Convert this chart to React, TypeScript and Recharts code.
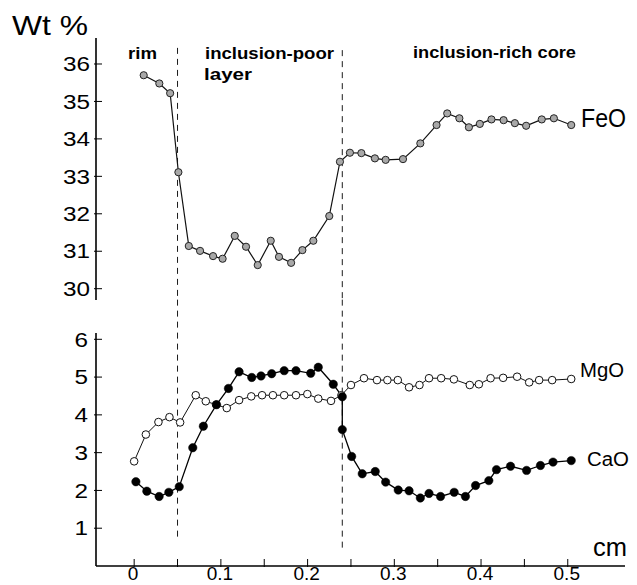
import React from 'react';
import { LineChart, Line, XAxis, YAxis, ReferenceLine } from 'recharts';

// ---- data (distance in cm, oxide wt %) ----
const feoDist = [0.011, 0.029, 0.0415, 0.051, 0.063, 0.076, 0.091, 0.102, 0.116, 0.129, 0.1425, 0.1575, 0.167, 0.181, 0.194, 0.2066, 0.225, 0.2373, 0.2488, 0.262, 0.2776, 0.29, 0.31, 0.33, 0.3487, 0.361, 0.375, 0.386, 0.3986, 0.412, 0.426, 0.439, 0.452, 0.47, 0.484, 0.504];
const feoWt = [35.7, 35.48, 35.22, 33.11, 31.14, 31.01, 30.87, 30.8, 31.41, 31.12, 30.63, 31.28, 30.85, 30.69, 31.03, 31.28, 31.94, 33.39, 33.63, 33.62, 33.48, 33.44, 33.46, 33.88, 34.37, 34.68, 34.55, 34.31, 34.4, 34.52, 34.5, 34.42, 34.35, 34.52, 34.55, 34.37];

const mgoDist = [0.0, 0.0135, 0.028, 0.0407, 0.053, 0.071, 0.0826, 0.0945, 0.1068, 0.121, 0.135, 0.1475, 0.16, 0.173, 0.1866, 0.1997, 0.2123, 0.227, 0.239, 0.25, 0.265, 0.28, 0.292, 0.304, 0.317, 0.329, 0.34, 0.354, 0.3687, 0.387, 0.3975, 0.411, 0.4255, 0.4416, 0.4555, 0.467, 0.482, 0.504];
const mgoWt = [2.77, 3.48, 3.81, 3.94, 3.8, 4.52, 4.36, 4.27, 4.18, 4.39, 4.49, 4.52, 4.52, 4.52, 4.52, 4.55, 4.43, 4.37, 4.52, 4.79, 4.97, 4.92, 4.92, 4.92, 4.73, 4.79, 4.97, 4.97, 4.94, 4.79, 4.81, 4.97, 4.98, 5.01, 4.86, 4.92, 4.92, 4.95];

const caoDist = [0.002, 0.0146, 0.0288, 0.04, 0.052, 0.0676, 0.0798, 0.095, 0.1087, 0.121, 0.1356, 0.1463, 0.1586, 0.173, 0.1866, 0.2036, 0.2123, 0.2296, 0.24, 0.24, 0.2508, 0.263, 0.278, 0.29, 0.3045, 0.317, 0.33, 0.34, 0.3533, 0.369, 0.382, 0.3937, 0.409, 0.4178, 0.434, 0.4525, 0.4685, 0.483, 0.504];
const caoWt = [2.23, 1.98, 1.84, 1.95, 2.1, 3.13, 3.7, 4.27, 4.7, 5.14, 4.99, 5.03, 5.09, 5.17, 5.17, 5.1, 5.26, 4.81, 4.48, 3.61, 2.9, 2.44, 2.5, 2.22, 2.01, 1.99, 1.8, 1.92, 1.84, 1.95, 1.84, 2.13, 2.26, 2.55, 2.64, 2.53, 2.66, 2.75, 2.79];

const xTicks = [0, 0.05, 0.1, 0.15, 0.2, 0.25, 0.3, 0.35, 0.4, 0.45, 0.5];
const xTickLabels = ['0', '', '0.1', '', '0.2', '', '0.3', '', '0.4', '', '0.5'];
const feoTicks = [30, 31, 32, 33, 34, 35, 36];
const lowerTicks = [1, 2, 3, 4, 5, 6];
const zoneBounds = [0.05, 0.24];

const feoData = feoDist.map((x, i) => ({ x, v: feoWt[i] }));
const mgoData = mgoDist.map((x, i) => ({ x, v: mgoWt[i] }));
const caoData = caoDist.map((x, i) => ({ x, v: caoWt[i] }));

// ---- layout / style ----
const AX = 96; // y-axis pixel x
const XAY = 566; // x-axis pixel y
const XDOM: [number, number] = [-0.044, 0.566];
const FONT = '"Liberation Sans", Arial, Helvetica, sans-serif';

const makeYTick = (labelRight: number) => (props: any) => {
  const { y, payload } = props;
  const s = String(payload.value);
  return (
    <g>
      <line x1={AX - 2} x2={AX + 6} y1={y} y2={y} stroke="#000" strokeWidth={1} />
      <text
        x={labelRight}
        y={y}
        dy="0.36em"
        textAnchor="end"
        fontSize={20}
        fontFamily={FONT}
        fill="#000"
        textLength={s.length * 13.5}
        lengthAdjust="spacingAndGlyphs"
      >
        {s}
      </text>
    </g>
  );
};

const XTick = (props: any) => {
  const { x, payload } = props;
  const idx = xTicks.indexOf(payload.value);
  const label = idx >= 0 ? xTickLabels[idx] : '';
  return (
    <g>
      <line x1={x} x2={x} y1={XAY + 1} y2={XAY - 7} stroke="#000" strokeWidth={1} />
      {label !== '' && (
        <text x={x - 1} y={580} textAnchor="middle" fontSize={19} fontFamily={FONT} fill="#000">
          {label}
        </text>
      )}
    </g>
  );
};

const dash = { stroke: '#000', strokeWidth: 0.9, strokeDasharray: '6 5' };

export default function App() {
  return (
    <div style={{ position: 'absolute', left: 0, top: 0, width: 637, height: 585, background: '#fff', overflow: 'hidden' }}>
      <div style={{ position: 'absolute', left: 0, top: 0 }}>
        <LineChart width={637} height={310} margin={{ top: 38, right: 12, bottom: 10, left: 36 }}>
          <XAxis type="number" dataKey="x" domain={XDOM} hide allowDataOverflow />
          <YAxis
            type="number"
            width={60}
            domain={[29.698, 36.694]}
            ticks={feoTicks}
            interval={0}
            allowDataOverflow
            axisLine={{ stroke: '#000', strokeWidth: 1.6 }}
            tickLine={false}
            tick={makeYTick(90)}
          />
          <ReferenceLine segment={[{ x: zoneBounds[0], y: 36.43 }, { x: zoneBounds[0], y: 29.698 }]} {...dash} ifOverflow="visible" />
          <ReferenceLine segment={[{ x: zoneBounds[1], y: 36.37 }, { x: zoneBounds[1], y: 29.698 }]} {...dash} ifOverflow="visible" />
          <Line
            data={feoData}
            dataKey="v"
            type="linear"
            stroke="#111"
            strokeWidth={1.2}
            dot={{ r: 3.6, fill: '#a8a8a8', stroke: '#222', strokeWidth: 1 }}
            isAnimationActive={false}
          />
        </LineChart>
      </div>
      <div style={{ position: 'absolute', left: 0, top: 0 }}>
        <LineChart width={637} height={585} margin={{ top: 333, right: 12, bottom: 0, left: 36 }}>
          <XAxis
            type="number"
            dataKey="x"
            domain={XDOM}
            allowDataOverflow
            ticks={xTicks}
            interval={0}
            height={19}
            axisLine={{ stroke: '#000', strokeWidth: 1.6 }}
            tickLine={false}
            tick={XTick}
          />
          <YAxis
            type="number"
            width={60}
            domain={[0, 6.167]}
            ticks={lowerTicks}
            interval={0}
            allowDataOverflow
            axisLine={{ stroke: '#000', strokeWidth: 1.6 }}
            tickLine={false}
            tick={makeYTick(88)}
          />
          <ReferenceLine segment={[{ x: zoneBounds[0], y: 7.05 }, { x: zoneBounds[0], y: 0.66 }]} {...dash} ifOverflow="visible" />
          <ReferenceLine segment={[{ x: zoneBounds[1], y: 7.05 }, { x: zoneBounds[1], y: 0.37 }]} {...dash} ifOverflow="visible" />
          <Line
            data={mgoData}
            dataKey="v"
            type="linear"
            stroke="#111"
            strokeWidth={1}
            dot={{ r: 3.8, fill: '#fff', stroke: '#111', strokeWidth: 1 }}
            isAnimationActive={false}
          />
          <Line
            data={caoData}
            dataKey="v"
            type="linear"
            stroke="#000"
            strokeWidth={1.3}
            dot={{ r: 4.2, fill: '#000', stroke: '#000', strokeWidth: 0.5 }}
            isAnimationActive={false}
          />
        </LineChart>
      </div>
      <svg width={637} height={585} style={{ position: 'absolute', left: 0, top: 0, pointerEvents: 'none' }}>
        <text x={12} y={35} fontSize={28} fontFamily={FONT} textLength={76} lengthAdjust="spacingAndGlyphs">Wt %</text>
        <text x={128} y={59} fontSize={17} fontWeight="bold" fontFamily={FONT} textLength={29} lengthAdjust="spacingAndGlyphs">rim</text>
        <text x={205} y={59} fontSize={17} fontWeight="bold" fontFamily={FONT} textLength={129} lengthAdjust="spacingAndGlyphs">inclusion-poor</text>
        <text x={204} y={80} fontSize={17} fontWeight="bold" fontFamily={FONT} textLength={48} lengthAdjust="spacingAndGlyphs">layer</text>
        <text x={413} y={58} fontSize={17} fontWeight="bold" fontFamily={FONT} textLength={163} lengthAdjust="spacingAndGlyphs">inclusion-rich core</text>
        <text x={581} y={127} fontSize={25} fontFamily={FONT} textLength={45} lengthAdjust="spacingAndGlyphs">FeO</text>
        <text x={580} y={377} fontSize={20} fontFamily={FONT} textLength={44} lengthAdjust="spacingAndGlyphs">MgO</text>
        <text x={587} y={466} fontSize={20} fontFamily={FONT} textLength={42} lengthAdjust="spacingAndGlyphs">CaO</text>
        <text x={593} y={556} fontSize={26} fontFamily={FONT} textLength={34} lengthAdjust="spacingAndGlyphs">cm</text>
      </svg>
    </div>
  );
}
